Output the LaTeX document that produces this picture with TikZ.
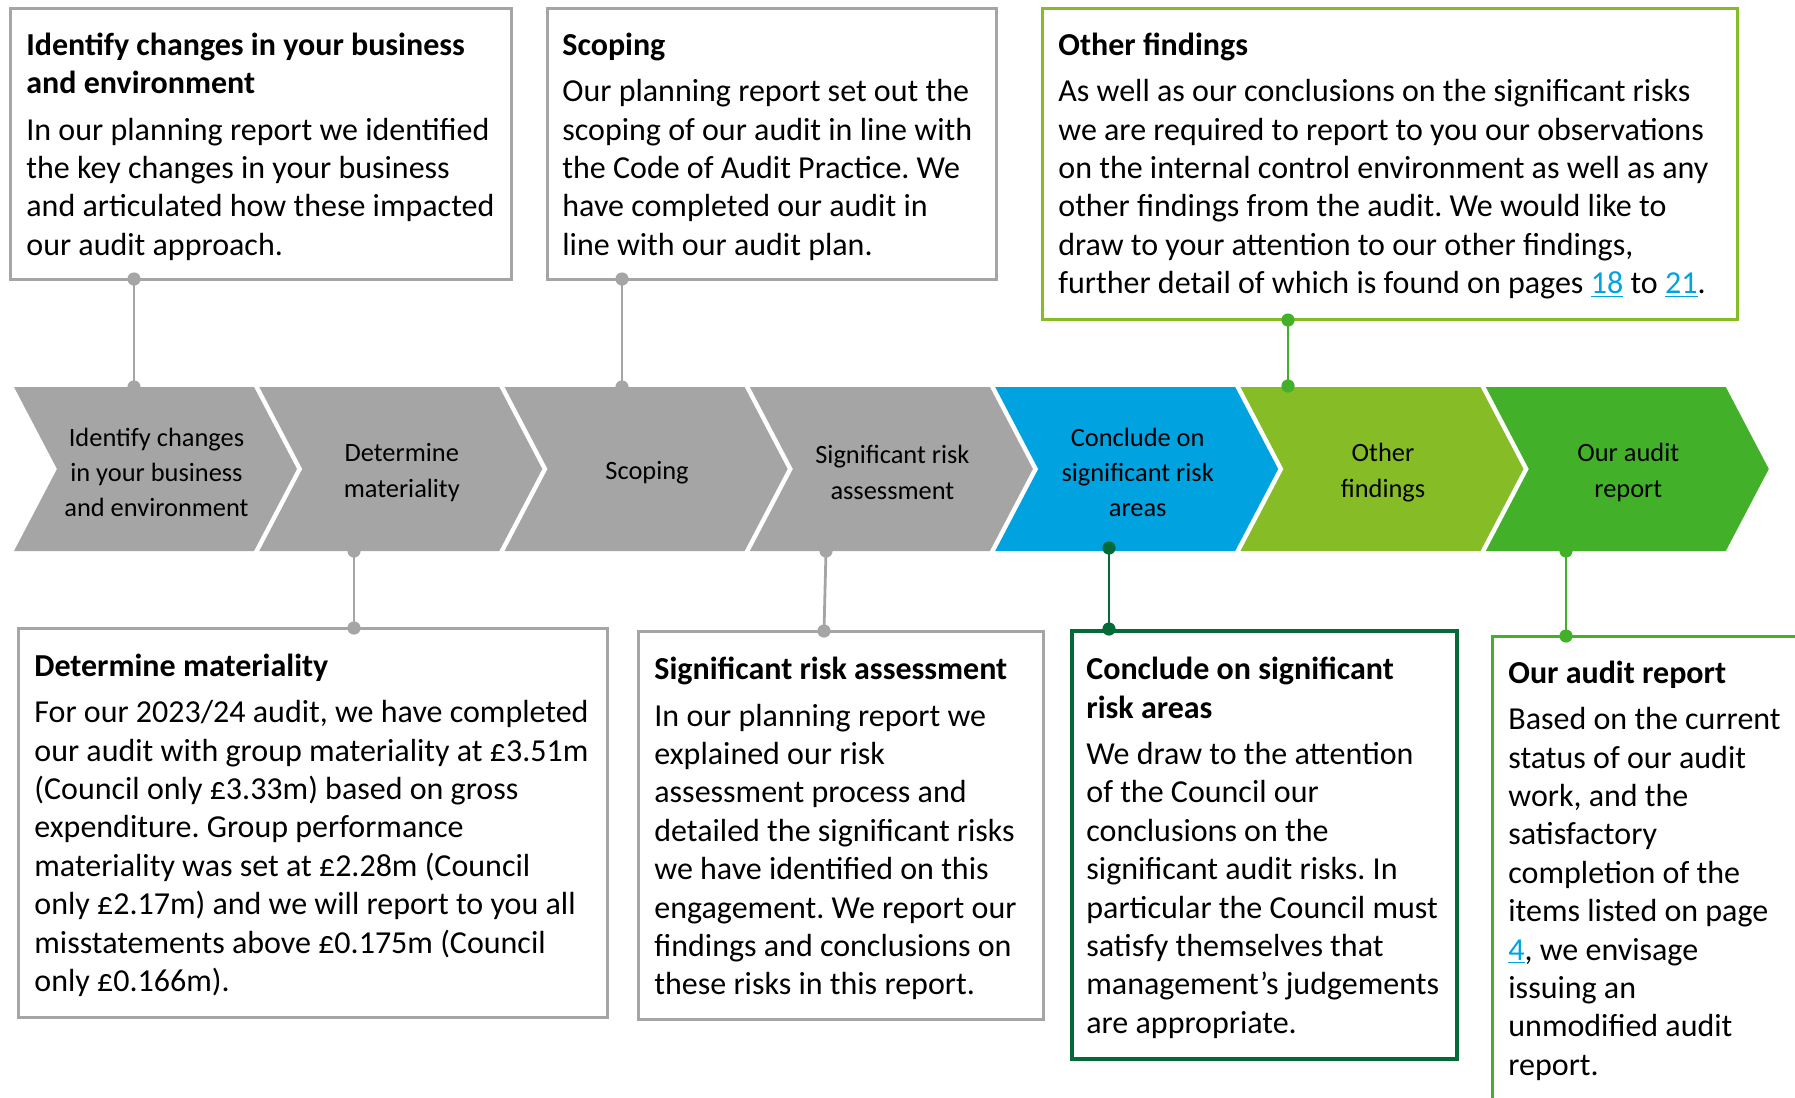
\documentclass[tikz,border=0pt]{standalone}
\usepackage{fontspec}
\setmainfont{Carlito}
\usetikzlibrary{fit}
\definecolor{cgray}{HTML}{A5A5A5}
\definecolor{cblue}{HTML}{00A3E0}
\definecolor{clgreen}{HTML}{86BC25}
\definecolor{cgreen}{HTML}{43B02A}
\definecolor{cdgreen}{HTML}{046A38}
\definecolor{linkblue}{HTML}{00A3E0}
\newcommand{\lnk}[1]{\textcolor{linkblue}{\underline{#1}}}
\frenchspacing
\tikzset{
  chevtext/.style={align=center, inner sep=0pt, font=\fontsize{13.2}{17.7}\selectfont, text=black},
  boxtext/.style={align=left, inner sep=0pt, anchor=north west, font=\fontsize{16}{19.2}\selectfont, text=black},
  infobox/.style={draw=#1, line width=1.5pt, inner sep=0pt},
  conn/.style={draw=#1, line width=1.4pt},
}
\newcommand{\dotat}[2]{\fill[#1] (#2) circle[radius=3.3pt];}
\begin{document}
\frenchspacing
\begin{tikzpicture}[x=0.5pt,y=-0.5pt]
\useasboundingbox (0,0) rectangle (1795,1098);
\clip (0,0) rectangle (1795,1098);

% chevrons
\foreach \i/\col/\txt/\nm in {
  0/cgray/{Identify changes\\in your business\\and environment}/ch1,
  1/cgray/{Determine\\materiality}/ch2,
  2/cgray/{Scoping}/ch3,
  3/cgray/{Significant risk\\assessment}/ch4,
  4/cblue/{Conclude on\\significant risk\\areas}/ch5,
  5/clgreen/{Other\\findings}/ch6,
  6/cgreen/{Our audit\\report}/ch7}{
  \pgfmathsetmacro\xa{14+245.3*\i}
  \fill[\col] (\xa,387) -- (\xa+240,387) -- (\xa+283,469) -- (\xa+240,551) -- (\xa,551) -- (\xa+43,469) -- cycle;
  \node[chevtext] (\nm) at (\xa+142.5,472.5) {\txt};
}

% boxes
\node[infobox=cgray, fit={(10,8) (511,279)}] (boxA) {};
\node[infobox=cgray, fit={(547,8) (996,279)}] (boxB) {};
\node[infobox=clgreen, fit={(1042,8) (1737,319)}] (boxC) {};
\node[infobox=cgray, fit={(18,628) (607,1017)}] (boxD) {};
\node[infobox=cgray, fit={(638,631) (1043,1019)}] (boxE) {};
\node[infobox=cdgreen, line width=1.8pt, fit={(1072,631) (1457,1059)}] (boxF) {};
\node[infobox=cgreen, fit={(1492,636) (1830,1130)}] (boxG) {};

% texts
\node[boxtext] (tA) at (26,28) {\strut\textbf{Identify changes in your business}\\\textbf{and environment}\\[4pt]
In our planning report we identified\\the key changes in your business\\and articulated how these impacted\\our audit approach.};
\node[boxtext] (tB) at (562,28) {\strut\textbf{Scoping}\\[4pt]
Our planning report set out the\\scoping of our audit in line with\\the Code of Audit Practice. We\\have completed our audit in\\line with our audit plan.};
\node[boxtext] (tC) at (1058,28) {\strut\textbf{Other findings}\\[4pt]
As well as our conclusions on the significant risks\\we are required to report to you our observations\\on the internal control environment as well as any\\other findings from the audit. We would like to\\draw to your attention to our other findings,\\further detail of which is found on pages \lnk{18} to \lnk{21}.};
\node[boxtext] (tD) at (34,649) {\strut\textbf{Determine materiality}\\[4pt]
For our 2023/24 audit, we have completed\\our audit with group materiality at £3.51m\\(Council only £3.33m) based on gross\\expenditure. Group performance\\materiality was set at £2.28m (Council\\only £2.17m) and we will report to you all\\misstatements above £0.175m (Council\\only £0.166m).};
\node[boxtext] (tE) at (654,652.5) {\strut\textbf{Significant risk assessment}\\[4pt]
In our planning report we\\explained our risk\\assessment process and\\detailed the significant risks\\we have identified on this\\engagement. We report our\\findings and conclusions on\\these risks in this report.};
\node[boxtext] (tF) at (1086,652.5) {\strut\textbf{Conclude on significant}\\\textbf{risk areas}\\[4pt]
We draw to the attention\\of the Council our\\conclusions on the\\significant audit risks. In\\particular the Council must\\satisfy themselves that\\management’s judgements\\are appropriate.};
\node[boxtext] (tG) at (1508,656) {\strut\textbf{Our audit report}\\[4pt]
Based on the current\\status of our audit\\work, and the\\satisfactory\\completion of the\\items listed on page\\\lnk{4}, we envisage\\issuing an\\unmodified audit\\report.};

% connectors
\coordinate (a1) at (134,279);  \coordinate (a2) at (134,387);
\coordinate (b1) at (622,279);  \coordinate (b2) at (622,387);
\coordinate (c1) at (1288,320); \coordinate (c2) at (1288,386);
\coordinate (d1) at (354,551);  \coordinate (d2) at (354,628);
\coordinate (e1) at (826,551);  \coordinate (e2) at (824,631);
\coordinate (f1) at (1109,548); \coordinate (f2) at (1109,629);
\coordinate (g1) at (1566,551); \coordinate (g2) at (1566,636);

\draw[conn=cgray] (a1) -- (a2); \dotat{cgray}{a1} \dotat{cgray}{a2}
\draw[conn=cgray] (b1) -- (b2); \dotat{cgray}{b1} \dotat{cgray}{b2}
\draw[conn=cgreen] (c1) -- (c2); \dotat{cgreen}{c1} \dotat{cgreen}{c2}
\draw[conn=cgray] (d1) -- (d2); \dotat{cgray}{d1} \dotat{cgray}{d2}
\draw[conn=cgray] (e1) -- (e2); \dotat{cgray}{e1} \dotat{cgray}{e2}
\draw[conn=cdgreen] (f1) -- (f2); \dotat{cdgreen}{f1} \dotat{cdgreen}{f2}
\draw[conn=cgreen] (g1) -- (g2); \dotat{cgreen}{g1} \dotat{cgreen}{g2}
\end{tikzpicture}
\end{document}
